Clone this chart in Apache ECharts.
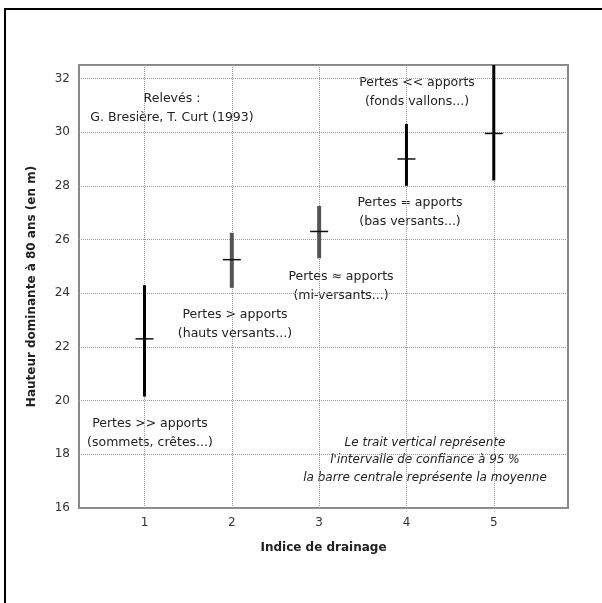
<!DOCTYPE html>
<html>
<head>
<meta charset="utf-8">
<script src="https://cdn.jsdelivr.net/npm/echarts@6/dist/echarts.min.js"></script>
<style>
  html, body { margin: 0; padding: 0; background: #fff; }
  #chart { width: 602px; height: 603px; }
</style>
</head>
<body>
<div id="chart"></div>
<script>
// indice de drainage et hauteurs (m)
const drainage = [1, 2, 3, 4, 5]
const moyenne = [22.3, 25.25, 26.3, 29.0, 29.95]
const icBas = [20.15, 24.2, 25.3, 28.0, 28.2]
const icHaut = [24.3, 26.25, 27.25, 30.3, 32.5]
const yTicks = [16, 18, 20, 22, 24, 26, 28, 30, 32]

const font = 'DejaVu Sans'
const txt = '#222'
const gridLine = { type: 'dotted', color: '#999', width: 1 }

const myChart = echarts.init(document.getElementById('chart'))

// petit bloc de texte centré sur (x, y)
const note = (x, y, lines, extra) => ({
  type: 'text', x: x, y: y,
  style: Object.assign({
    text: lines.join('\n'), fill: txt, font: '12.5px ' + font,
    textAlign: 'center', textVerticalAlign: 'top', lineHeight: 19
  }, extra || {})
})

myChart.setOption({
  animation: false,
  grid: { left: 79, right: 34, top: 65, bottom: 95, show: true, borderColor: '#888', borderWidth: 2 },
  xAxis: {
    // pas de 0.25 pour que les graduations tombent sur les entiers
    type: 'value', min: 0.25, max: 5.85, interval: 0.25,
    name: 'Indice de drainage', nameLocation: 'middle', nameGap: 34,
    nameTextStyle: { fontFamily: font, fontWeight: 'bold', fontSize: 12, color: txt },
    axisLine: { show: false }, axisTick: { show: false },
    axisLabel: {
      margin: 9, fontFamily: font, fontSize: 12, color: '#333',
      formatter: v => drainage.includes(v) ? String(v) : ''
    },
    splitLine: { show: false }
  },
  yAxis: {
    type: 'value', min: 16, max: 32.5, interval: 2,
    name: 'Hauteur dominante à 80 ans (en m)', nameLocation: 'middle', nameGap: 41,
    nameTextStyle: { fontFamily: font, fontWeight: 'bold', fontSize: 12, color: txt },
    axisLine: { show: false }, axisTick: { show: false },
    axisLabel: {
      margin: 9, fontFamily: font, fontSize: 12, color: '#333',
      formatter: v => yTicks.includes(v) ? String(v) : ''
    },
    splitLine: { show: true, lineStyle: gridLine }
  },
  series: [{
    type: 'custom',
    clip: true,
    z: 3,
    data: drainage.map((d, i) => [d, icBas[i], icHaut[i], moyenne[i]]),
    encode: { x: 0, y: [1, 2, 3] },
    renderItem: (params, api) => {
      const lo = api.coord([api.value(0), api.value(1)])
      const hi = api.coord([api.value(0), api.value(2)])
      const m = api.coord([api.value(0), api.value(3)])
      const grey = params.dataIndex === 1 || params.dataIndex === 2
      return {
        type: 'group',
        children: [
          { type: 'line', shape: { x1: lo[0], y1: lo[1], x2: hi[0], y2: hi[1] },
            style: { stroke: grey ? '#555' : '#000', lineWidth: grey ? 4 : 3 } },
          { type: 'line', shape: { x1: m[0] - 9, y1: m[1], x2: m[0] + 9, y2: m[1] },
            style: { stroke: '#111', lineWidth: 1.5 } }
        ]
      }
    },
    // lignes verticales de la grille sur chaque indice, sous les barres
    markLine: {
      silent: true, symbol: 'none', label: { show: false }, z: 1,
      lineStyle: gridLine,
      data: drainage.map(d => ({ xAxis: d }))
    }
  }],
  graphic: [
    { type: 'line', shape: { x1: 5, y1: 8, x2: 5, y2: 603 }, style: { stroke: '#000', lineWidth: 2 } },
    { type: 'line', shape: { x1: 5, y1: 9, x2: 602, y2: 9 }, style: { stroke: '#000', lineWidth: 2 } },
    note(172, 89.5, ['Relevés :', 'G. Bresière, T. Curt (1993)']),
    note(417, 73.5, ['Pertes << apports', '(fonds vallons...)']),
    note(410, 193.5, ['Pertes = apports', '(bas versants...)']),
    note(341, 267.5, ['Pertes ≈ apports', '(mi-versants...)']),
    note(235, 305.5, ['Pertes > apports', '(hauts versants...)']),
    note(150, 414.5, ['Pertes >> apports', '(sommets, crêtes...)']),
    note(425, 434, ['Le trait vertical représente', "l'intervalle de confiance à 95 %", 'la barre centrale représente la moyenne'],
      { font: 'italic 12px ' + font, lineHeight: 17.5 })
  ]
})
</script>
</body>
</html>
